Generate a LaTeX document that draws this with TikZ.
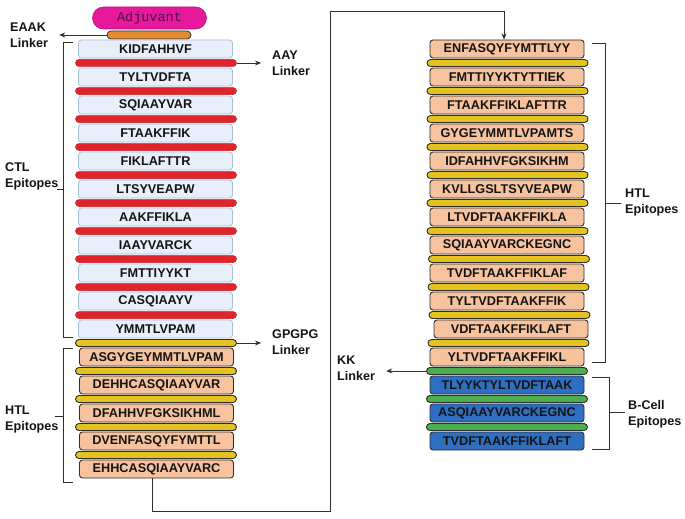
\documentclass[tikz,border=0pt]{standalone}
\usepackage{fontspec}
\setmainfont{Liberation Sans}
\newfontfamily\adjfont{Liberation Mono}
\usepackage{tikz}
\usetikzlibrary{arrows.meta, positioning}

\definecolor{ctlfill}{HTML}{E8EFFA}
\definecolor{ctlline}{HTML}{A9BDD9}
\definecolor{htlfill}{HTML}{F7C39E}
\definecolor{bcellfill}{HTML}{2F6FC2}
\definecolor{redlink}{HTML}{E1242B}
\definecolor{yellowlink}{HTML}{E5C21E}
\definecolor{greenlink}{HTML}{4DAE4F}
\definecolor{eaaklink}{HTML}{E58B30}
\definecolor{adjfill}{HTML}{E6189C}
\definecolor{adjtext}{HTML}{4A1046}
\definecolor{inkline}{HTML}{2E2E2E}

\begin{document}
\begin{tikzpicture}[x=1pt, y=-1pt,
    epibox/.style={rounded corners=3pt, minimum width=154pt, minimum height=18pt, inner sep=0pt,
        font=\bfseries\fontsize{12.7}{14}\selectfont, text=black!92},
    ctlbox/.style={epibox, draw=ctlline, fill=ctlfill, line width=0.8pt},
    htlbox/.style={epibox, draw=inkline, fill=htlfill, line width=0.9pt},
    bcellbox/.style={epibox, draw=inkline, fill=bcellfill, line width=0.9pt},
    linkbar/.style={rounded corners=3.5pt, minimum width=161pt, minimum height=7pt, inner sep=0pt},
    redbar/.style={linkbar, draw=redlink!85!black, fill=redlink, line width=0.5pt},
    yellowbar/.style={linkbar, draw=inkline, fill=yellowlink, line width=0.9pt},
    greenbar/.style={linkbar, draw=inkline, fill=greenlink, line width=0.9pt},
    sidelabel/.style={anchor=west, align=left, inner sep=0pt, text=black!92,
        font=\bfseries\fontsize{12.6}{16}\selectfont},
    linkarrow/.style={draw=inkline, line width=0.9pt, -{Stealth[length=6pt, width=5pt]}, shorten >=11pt},
    bracketline/.style={draw=inkline, line width=1pt}]

    \useasboundingbox (0,0) rectangle (685,519);

    % Adjuvant and EAAK linker
    \node[rounded corners=11pt, draw=adjfill!80!black, fill=adjfill, line width=0.6pt,
          minimum width=114pt, minimum height=22pt, inner sep=0pt,
          font=\adjfont\fontsize{13.5}{15}\selectfont, text=adjtext] (adj) at (149.5,18) {Adjuvant};
    \node[rounded corners=4pt, draw=inkline, fill=eaaklink, line width=0.8pt,
          minimum width=84pt, minimum height=8pt, inner sep=0pt] (eaak) at (149,35) {};

    % CTL epitopes with AAY linkers
    \node[ctlbox] (c1) at (155.5,49) {KIDFAHHVF};
    \node[redbar] (r1) at (156,63) {};
    \node[ctlbox] (c2) at (155.5,77) {TYLTVDFTA};
    \node[redbar] (r2) at (156,91) {};
    \node[ctlbox] (c3) at (155.5,105) {SQIAAYVAR};
    \node[redbar] (r3) at (156,119) {};
    \node[ctlbox] (c4) at (155.5,133) {FTAAKFFIK};
    \node[redbar] (r4) at (156,147) {};
    \node[ctlbox] (c5) at (155.5,161) {FIKLAFTTR};
    \node[redbar] (r5) at (156,175) {};
    \node[ctlbox] (c6) at (155.5,189) {LTSYVEAPW};
    \node[redbar] (r6) at (156,203) {};
    \node[ctlbox] (c7) at (155.5,217) {AAKFFIKLA};
    \node[redbar] (r7) at (156,231) {};
    \node[ctlbox] (c8) at (155.5,245) {IAAYVARCK};
    \node[redbar] (r8) at (156,259) {};
    \node[ctlbox] (c9) at (155.5,273) {FMTTIYYKT};
    \node[redbar] (r9) at (156,287) {};
    \node[ctlbox] (c10) at (155.5,301) {CASQIAAYV};
    \node[redbar] (r10) at (156,315) {};
    \node[ctlbox] (c11) at (155.5,329) {YMMTLVPAM};

    % HTL epitopes (left) with GPGPG linkers
    \node[yellowbar] (y0) at (156,343) {};
    \node[htlbox] (h1) at (156.5,357) {ASGYGEYMMTLVPAM};
    \node[yellowbar] (y1) at (156,371) {};
    \node[htlbox] (h2) at (156.5,385) {DEHHCASQIAAYVAR};
    \node[yellowbar] (y2) at (156,399) {};
    \node[htlbox] (h3) at (156.5,413) {DFAHHVFGKSIKHML};
    \node[yellowbar] (y3) at (156,427) {};
    \node[htlbox] (h4) at (156.5,441) {DVENFASQYFYMTTL};
    \node[yellowbar] (y4) at (156,455) {};
    \node[htlbox] (h5) at (156.5,469) {EHHCASQIAAYVARC};

    % HTL epitopes (right)
    \node[htlbox] (e1) at (507,49) {ENFASQYFYMTTLYY};
    \node[yellowbar] (w1) at (507.5,63) {};
    \node[htlbox] (e2) at (507,77) {FMTTIYYKTYTTIEK};
    \node[yellowbar] (w2) at (507.5,91) {};
    \node[htlbox] (e3) at (507,105) {FTAAKFFIKLAFTTR};
    \node[yellowbar] (w3) at (507.5,119) {};
    \node[htlbox] (e4) at (507,133) {GYGEYMMTLVPAMTS};
    \node[yellowbar] (w4) at (507.5,147) {};
    \node[htlbox] (e5) at (507,161) {IDFAHHVFGKSIKHM};
    \node[yellowbar] (w5) at (507.5,175) {};
    \node[htlbox] (e6) at (507,189) {KVLLGSLTSYVEAPW};
    \node[yellowbar] (w6) at (507.5,203) {};
    \node[htlbox] (e7) at (507,217) {LTVDFTAAKFFIKLA};
    \node[yellowbar] (w7) at (507.5,231) {};
    \node[htlbox] (e8) at (507,245) {SQIAAYVARCKEGNC};
    \node[yellowbar] (w8) at (509,259) {};
    \node[htlbox] (e9) at (507,273) {TVDFTAAKFFIKLAF};
    \node[yellowbar] (w9) at (508.5,287) {};
    \node[htlbox] (e10) at (507,301) {TYLTVDFTAAKFFIK};
    \node[yellowbar] (w10) at (509.5,315) {};
    \node[htlbox] (e11) at (511,329) {VDFTAAKFFIKLAFT};
    \node[yellowbar] (w11) at (508.5,343) {};
    \node[htlbox] (e12) at (507,357) {YLTVDFTAAKFFIKL};

    % B-cell epitopes with KK linkers
    \node[greenbar] (g1) at (507,371) {};
    \node[bcellbox] (b1) at (507,385) {TLYYKTYLTVDFTAAK};
    \node[greenbar] (g2) at (507,399) {};
    \node[bcellbox] (b2) at (507,413) {ASQIAAYVARCKEGNC};
    \node[greenbar] (g3) at (507,427) {};
    \node[bcellbox] (b3) at (507,441) {TVDFTAAKFFIKLAFT};

    % Labels
    \node[sidelabel] (eaaklbl) at (10,35) {EAAK\\Linker};
    \node[sidelabel] (aaylbl) at (272,63) {AAY\\Linker};
    \node[sidelabel] (ctllbl) at (5,176) {CTL\\Epitopes};
    \node[sidelabel] (gpglbl) at (272,342) {GPGPG\\Linker};
    \node[sidelabel] (htllbl) at (5,419) {HTL\\Epitopes};
    \node[sidelabel] (kklbl) at (337,368) {KK\\Linker};
    \node[sidelabel] (htrlbl) at (625,202) {HTL\\Epitopes};
    \node[sidelabel] (bcelllbl) at (628,414) {B-Cell\\Epitopes};

    % Linker arrows
    \draw[linkarrow] (eaak.west) -- (eaak.west -| eaaklbl.east);
    \draw[linkarrow] (r1.east) -- (r1.east -| aaylbl.west);
    \draw[linkarrow] (y0.east) -- (y0.east -| gpglbl.west);
    \draw[linkarrow] (g1.west) -- (g1.west -| kklbl.east);

    % Brackets
    \draw[bracketline] (73,43) -- (63,43) -- (63,337) -- (73,337);
    \draw[bracketline] (63,189) -- (57,189);
    \draw[bracketline] (73,348) -- (63,348) -- (63,482) -- (73,482);
    \draw[bracketline] (63,416) -- (55,416);
    \draw[bracketline] (592,44) -- (605,44) -- (605,362) -- (592,362);
    \draw[bracketline] (605,203) -- (621,203);
    \draw[bracketline] (592,377) -- (609,377) -- (609,449) -- (592,449);
    \draw[bracketline] (609,412) -- (625,412);

    % Chain continues in the right column
    \coordinate (turnlow) at (330,511);
    \coordinate (turnhigh) at (330,12);
    \draw[draw=inkline, line width=1pt, -{Stealth[length=6pt, width=5pt]}]
        ([xshift=-4pt]h5.south) |- (turnlow) -- (turnhigh) -| ([xshift=-3pt]e1.north);
\end{tikzpicture}
\end{document}
